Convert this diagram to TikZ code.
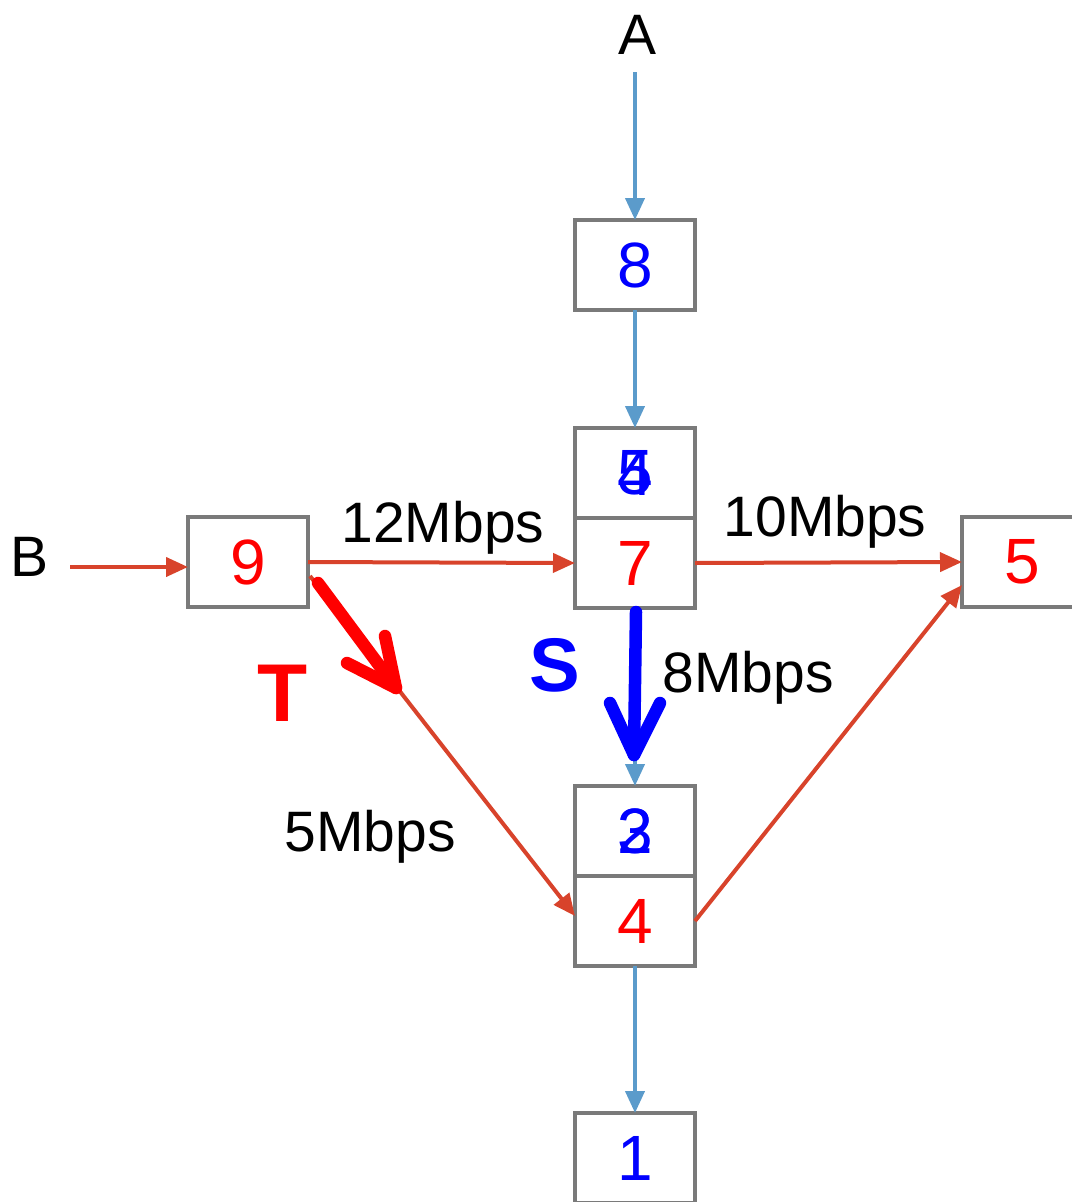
\documentclass[tikz,border=0pt]{standalone}
\usepackage{fontspec}
\setmainfont{Liberation Sans}
\usetikzlibrary{arrows.meta,calc}
\definecolor{flowblue}{HTML}{5B9BCB}
\definecolor{flowred}{HTML}{D8432B}
\definecolor{boxgray}{HTML}{7A7A7A}
\definecolor{numred}{HTML}{FF0000}
\definecolor{numblue}{HTML}{0000FF}
\begin{document}
\begin{tikzpicture}[x=1pt,y=-1pt,
  cell/.style={draw=boxgray,line width=3.5pt,fill=white,minimum width=120pt,
    minimum height=90pt,inner sep=0pt,outer sep=0pt,
    font=\fontsize{64}{64}\selectfont},
  rednum/.style={text=numred},
  bluenum/.style={text=numblue},
  digit/.style={inner sep=0pt,font=\fontsize{64}{64}\selectfont},
  lab/.style={inner sep=0pt,font=\fontsize{57}{57}\selectfont},
  flow/.style={line width=4pt,-{Triangle[length=22pt,width=19pt]}},
  bflow/.style={flow,draw=flowblue,fill=flowblue},
  rflow/.style={flow,draw=flowred,fill=flowred},
  hand/.style={line width=12.5pt,line cap=round,line join=round}]
\useasboundingbox (0,0) rectangle (1071,1202);

% switches
\node[cell,bluenum] (b8) at (635,265) {8};
\node[cell] (b45) at (635,473) {};
\node[digit,bluenum] (d4) at (b45) {4};
\node[digit,bluenum] (d5) at (b45) {5};
\node[cell,rednum] (b7) at (635,563) {7};
\node[cell,rednum] (b9) at (248,562) {9};
\node[cell,rednum] (b5) at (1022,562) {5};
\node[cell] (b23) at (635,831) {};
\node[digit,bluenum] (d2) at (b23) {2};
\node[digit,bluenum] (d3) at (b23) {3};
\node[cell,rednum] (b4) at (635,921) {4};
\node[cell,bluenum] (b1) at (635,1158) {1};

% sources
\node[lab] (A) at (638,35) {A};
\node[lab] (B) at (30,557) {B};
\coordinate (a0) at (635,72);
\coordinate (bb0) at (70,567);

% flow from A
\draw[bflow] (a0) -- (b8.north);
\draw[bflow] (b8.south) -- (b45.north);
\draw[bflow] (b7.south) -- (b23.north);
\draw[bflow] (b4.south) -- (b1.north);

% flow from B
\draw[rflow] (bb0) -- ($(b9.west)+(0,5)$);
\draw[rflow] (b9.east) -- (b7.west);
\draw[rflow] (b7.east) -- (b5.west);
\draw[rflow] ($(b9.east)+(2,14)$) -- ($(b4.west)+(0,-5)$);
\draw[rflow] (b4.east) -- ($(b5.west)+(0,23)$);

% link rates
\node[lab] (r12) at (443,528) {12Mbps};
\node[lab] (r10) at (825,522) {10Mbps};
\node[lab] (r8) at (748,678) {8Mbps};
\node[lab] (r5) at (370,837) {5Mbps};

% marked paths
\coordinate (s0) at (636,612);
\coordinate (s1) at (634,755);
\coordinate (s2) at (610,703);
\coordinate (s3) at (660,703);
\draw[hand,draw=numblue] (s0) -- (s1);
\draw[hand,draw=numblue] (s2) -- (s1) -- (s3);
\node[lab,text=numblue,font=\fontsize{76}{76}\selectfont\bfseries] (S) at (555,665) {S};

\coordinate (t0) at (318,583);
\coordinate (t1) at (396,688);
\coordinate (t2) at (385,636);
\coordinate (t3) at (347,663);
\draw[hand,draw=numred] (t0) -- (t1);
\draw[hand,draw=numred] (t2) -- (t1) -- (t3);
\node[lab,text=numred,font=\fontsize{82}{82}\selectfont\bfseries] (T) at (283,693) {T};
\end{tikzpicture}
\end{document}
